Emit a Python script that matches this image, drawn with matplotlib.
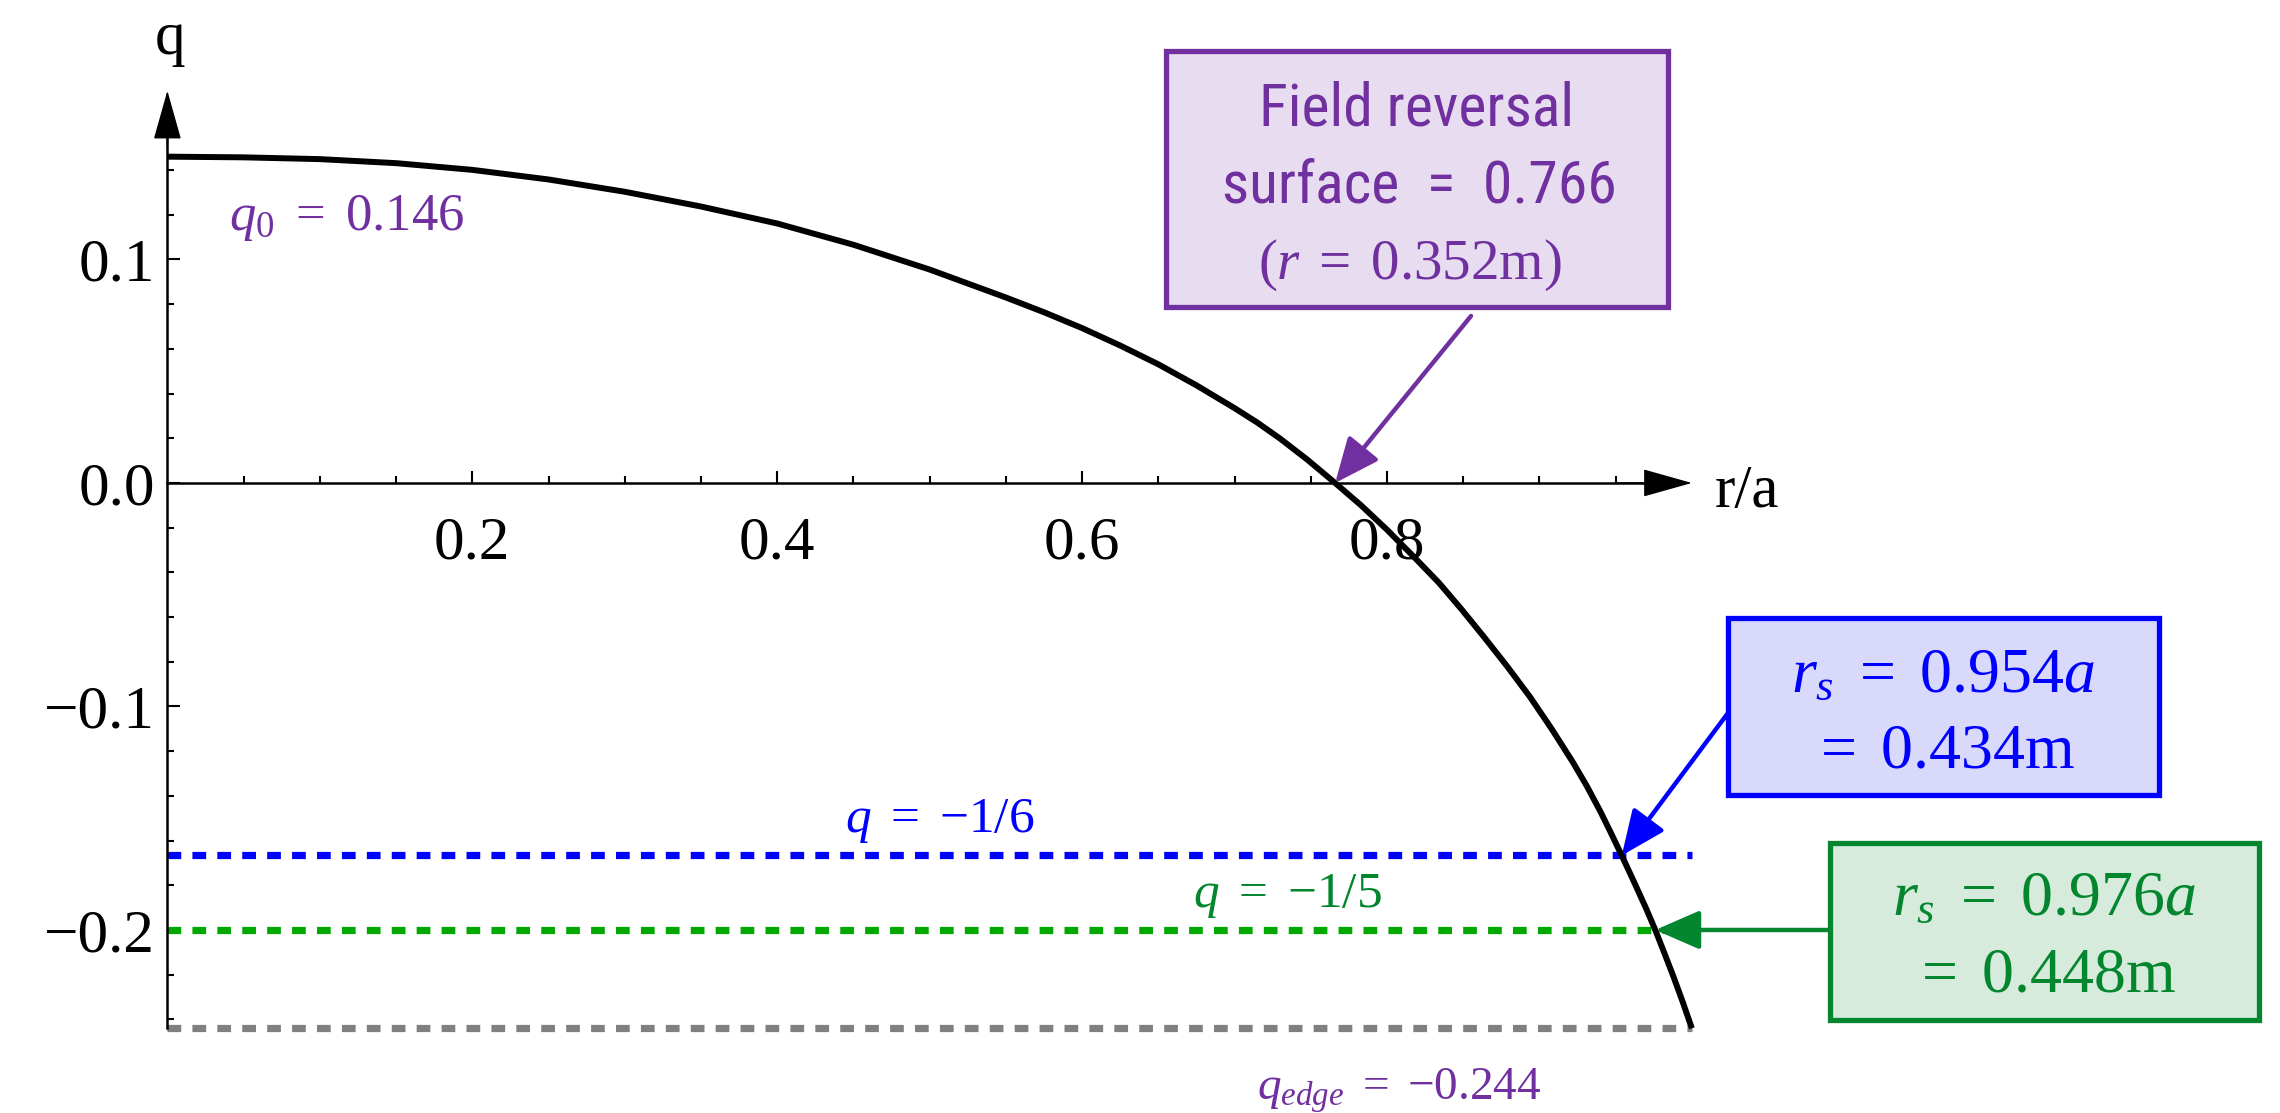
import numpy as np
import matplotlib
matplotlib.use('Agg')
import matplotlib.pyplot as plt
from matplotlib.patches import Rectangle
from matplotlib.ticker import FixedLocator, FixedFormatter

# safety factor profile q(r/a)
r_a = [0.0, 0.05, 0.1, 0.15, 0.2, 0.25, 0.3, 0.35, 0.4, 0.45, 0.5, 0.55,
       0.575, 0.6, 0.625, 0.65, 0.675, 0.7, 0.715, 0.73, 0.748, 0.766,
       0.783, 0.8, 0.817, 0.834, 0.849, 0.864, 0.879, 0.894, 0.908, 0.922,
       0.931, 0.94, 0.947, 0.954, 0.962, 0.97, 0.976, 0.982, 0.988, 0.994,
       1.0]
q_vals = [0.146, 0.1457, 0.1449, 0.1431, 0.1401, 0.1358, 0.1303, 0.1237,
          0.1161, 0.1066, 0.0955, 0.0830, 0.0764, 0.0693, 0.0615, 0.0531,
          0.0437, 0.0335, 0.0270, 0.0198, 0.0103, 0.0, -0.0100, -0.0209,
          -0.0326, -0.0446, -0.0566, -0.0692, -0.0822, -0.0959, -0.1100,
          -0.1250, -0.1355, -0.1470, -0.1567, -0.1667, -0.1784, -0.1904,
          -0.2000, -0.2104, -0.2210, -0.2322, -0.2440]

q0 = 0.146
q_edge = -0.244
r_rev = 0.766
r_rev_m = 0.352
q_res = [-1 / 6, -1 / 5]
r_res = [0.954, 0.976]
r_res_m = [0.434, 0.448]

x_major = [0.2, 0.4, 0.6, 0.8]
x_labels = ['0.2', '0.4', '0.6', '0.8']
y_major = [-0.2, -0.1, 0.0, 0.1]
y_labels = ['\u22120.2', '\u22120.1', '0.0', '0.1']

PURPLE = '#7030A0'
BLUE = '#0000FF'
GREEN_TXT = '#04862E'
GREEN_LINE = '#00A800'
GREY = '#808080'

plt.rcParams['font.family'] = 'Liberation Serif'
plt.rcParams['mathtext.fontset'] = 'custom'
plt.rcParams['mathtext.rm'] = 'Liberation Serif'
plt.rcParams['mathtext.it'] = 'Liberation Serif:italic'
plt.rcParams['mathtext.bf'] = 'Liberation Serif:bold'

W, H = 2280, 1113
fig = plt.figure(figsize=(W / 100, H / 100), dpi=100)
ax = fig.add_axes([0, 0, 1, 1])
ax.set_xlim(-0.1098, 1.3858)
ax.set_ylim(-0.2819, 0.2161)


def pos(X, Y):
    # pixel position -> axes fraction
    return X / W, 1 - Y / H


# axes through the origin
for side in ['top', 'right']:
    ax.spines[side].set_visible(False)
ax.spines['left'].set_position(('data', 0))
ax.spines['bottom'].set_position(('data', 0))
ax.spines['left'].set_bounds(q_edge, 0.16)
ax.spines['bottom'].set_bounds(0, 0.97)
ax.spines['left'].set_linewidth(1.8)
ax.spines['bottom'].set_linewidth(1.8)

ax.xaxis.set_major_locator(FixedLocator(x_major))
ax.xaxis.set_major_formatter(FixedFormatter(x_labels))
ax.xaxis.set_minor_locator(FixedLocator(np.arange(0.05, 0.97, 0.05)))
ax.yaxis.set_major_locator(FixedLocator(y_major))
ax.yaxis.set_major_formatter(FixedFormatter(y_labels))
ax.yaxis.set_minor_locator(FixedLocator(np.arange(-0.24, 0.15, 0.02)))
ax.tick_params(which='both', direction='in', width=1.5, labelsize=44)
ax.tick_params(which='major', length=9)
ax.tick_params(which='minor', length=5)
ax.tick_params(axis='x', pad=24)
ax.tick_params(axis='y', pad=9)

arrow_ax = dict(arrowstyle='-|>,head_length=1.6,head_width=0.45',
                mutation_scale=20, color='black', lw=1, shrinkA=0, shrinkB=0)
ax.annotate('', xy=(1.0, 0), xytext=(0.95, 0), arrowprops=arrow_ax)
ax.annotate('', xy=(0, 0.1755), xytext=(0, 0.15), arrowprops=arrow_ax)
ax.text(*pos(170, 54), 'q', transform=ax.transAxes, fontsize=44,
        ha='center', va='baseline')
ax.text(*pos(1715, 507), 'r/a', transform=ax.transAxes, fontsize=44,
        ha='left', va='baseline')

# resonant surfaces and edge value
dash_specs = [(q_res[0], BLUE), (q_res[1], GREEN_LINE), (q_edge, GREY)]
for qv, col in dash_specs:
    ln, = ax.plot([0, 1.0], [qv, qv], color=col, lw=5.2, zorder=2)
    ln.set_dashes((1.9, 1.55))
    ln.set_dash_capstyle('butt')

ax.plot(r_a, q_vals, color='black', lw=4.3, zorder=3,
        solid_capstyle='butt', solid_joinstyle='round')

ax.text(*pos(229, 230), r'$q_0\ =\ %.3f$' % q0, transform=ax.transAxes,
        fontsize=38, color=PURPLE, ha='left', va='baseline')
ax.text(*pos(940, 832), r'$q\ =\ {-}1/6$', transform=ax.transAxes,
        fontsize=37, color=BLUE, ha='center', va='baseline')
ax.text(*pos(1287, 907), r'$q\ =\ {-}1/5$', transform=ax.transAxes,
        fontsize=37, color=GREEN_TXT, ha='center', va='baseline')
ax.text(*pos(1399, 1100), r'$q_{edge}\ =\ {-}%.3f$' % abs(q_edge),
        transform=ax.transAxes, fontsize=34, color=PURPLE, ha='center',
        va='baseline')

# annotation boxes
boxes = [
    ((1166, 51, 1668, 307), PURPLE, '#E8DDF0'),
    ((1728, 618, 2159, 795), BLUE, '#D9D9FB'),
    ((1830, 843, 2259, 1020), GREEN_TXT, '#D6EBDC'),
]
for (x0, y0, x1, y1), ec, fc in boxes:
    bx, by = pos(x0, y1)
    ax.add_patch(Rectangle((bx, by), (x1 - x0) / W, (y1 - y0) / H,
                           transform=ax.transAxes, facecolor=fc,
                           edgecolor=ec, lw=3.8, zorder=4))

sans = ['Roboto Condensed', 'Liberation Sans Narrow', 'Liberation Sans']
ax.text(*pos(1417, 126), 'Field reversal', transform=ax.transAxes,
        fontsize=43, family=sans, color=PURPLE, ha='center', va='baseline',
        zorder=5)
ax.text(*pos(1419, 202), 'surface  =  %.3f' % r_rev, transform=ax.transAxes,
        fontsize=43, family=sans, color=PURPLE, ha='center', va='baseline',
        zorder=5)
ax.text(*pos(1410, 279), r'$(r\;=\;%.3f\mathrm{m})$' % r_rev_m,
        transform=ax.transAxes, fontsize=41, color=PURPLE, ha='center',
        va='baseline', zorder=5)

ax.text(*pos(1943, 692), r'$r_s\ =\ %.3fa$' % r_res[0],
        transform=ax.transAxes, fontsize=46, color=BLUE, ha='center',
        va='baseline', zorder=5)
ax.text(*pos(1943, 768), r'$=\ %.3f\mathrm{m}$' % r_res_m[0],
        transform=ax.transAxes, fontsize=46, color=BLUE, ha='center',
        va='baseline', zorder=5)
ax.text(*pos(2044, 915), r'$r_s\ =\ %.3fa$' % r_res[1],
        transform=ax.transAxes, fontsize=46, color=GREEN_TXT, ha='center',
        va='baseline', zorder=5)
ax.text(*pos(2044, 992), r'$=\ %.3f\mathrm{m}$' % r_res_m[1],
        transform=ax.transAxes, fontsize=46, color=GREEN_TXT, ha='center',
        va='baseline', zorder=5)


# pointers from the boxes to the curve
def pointer(xy, start, col):
    ax.annotate('', xy=xy, xycoords='data', xytext=pos(*start),
                textcoords='axes fraction',
                arrowprops=dict(arrowstyle='-|>,head_length=0.55,head_width=0.24',
                                mutation_scale=50, color=col, lw=3.2,
                                shrinkA=0, shrinkB=0),
                zorder=4)


pointer((r_rev, 0), (1471, 316), PURPLE)
pointer((r_res[0], q_res[0]), (1728, 713), BLUE)
pointer((r_res[1], q_res[1]), (1830, 930), GREEN_TXT)

fig.savefig('out.png', dpi=100, facecolor='white')
